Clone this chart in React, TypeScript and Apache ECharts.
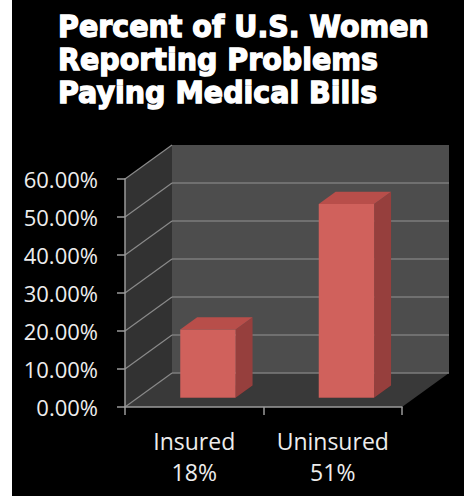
import React, { useEffect, useRef } from "react";
import * as echarts from "echarts";

const categories = ["Insured", "Uninsured"];
const categoryPercents = ["18%", "51%"];
const values = [0.18, 0.51];
const yMin = 0;
const yMax = 0.6;
const yInterval = 0.1;
const yTicks = [0, 0.1, 0.2, 0.3, 0.4, 0.5, 0.6];
const titleLines = ["Percent of U.S. Women", "Reporting Problems", "Paying Medical Bills"];

const DX = 47;
const DY = -34;
const T0 = 0.27;
const T1 = 0.63;

export default function App() {
  const ref = useRef<HTMLDivElement>(null);
  useEffect(() => {
    document.body.style.margin = "0";
    const chart = echarts.init(ref.current as HTMLDivElement, null, { renderer: "svg" });

    const wallsRender = (params: any, api: any) => {
      const cs = params.coordSys;
      const x0 = cs.x;
      const x1 = cs.x + cs.width;
      const yb = api.coord([0, yMin])[1];
      const yt = api.coord([0, yMax])[1];
      const children: any[] = [
        {
          type: "polygon",
          shape: { points: [[x0, yt], [x0 + DX, yt + DY], [x0 + DX, yb + DY], [x0, yb]] },
          style: { fill: "#323232" },
        },
        {
          type: "rect",
          shape: { x: x0 + DX, y: yt + DY, width: x1 - x0, height: yb - yt },
          style: { fill: "#4d4d4d" },
        },
        {
          type: "polygon",
          shape: { points: [[x0, yb], [x0 + DX, yb + DY], [x1 + DX, yb + DY], [x1, yb]] },
          style: { fill: "#393939" },
        },
      ];
      yTicks.forEach((v) => {
        const y = api.coord([0, v])[1];
        if (v < yMax) {
          children.push({
            type: "line",
            shape: { x1: x0 + DX, y1: y + DY, x2: x1 + DX, y2: y + DY },
            style: { stroke: "#7c7c7c", lineWidth: 1.5 },
          });
        }
        children.push({
          type: "line",
          shape: { x1: x0, y1: y, x2: x0 + DX, y2: y + DY },
          style: { stroke: "#8a8a8a", lineWidth: 1.2 },
        });
      });
      return { type: "group", children };
    };

    const barsRender = (params: any, api: any) => {
      const idx = api.value(0);
      const val = api.value(1);
      const top = api.coord([idx, val]);
      const base = api.coord([idx, 0]);
      const w = api.size([1, 0])[0] * 0.4;
      const fl = top[0] - w / 2 + DX * T0 + 1;
      const fr = fl + w;
      const ft = top[1] + DY * T0;
      const fb = base[1] + DY * T0;
      const bdx = DX * (T1 - T0);
      const bdy = DY * (T1 - T0);
      return {
        type: "group",
        children: [
          {
            type: "polygon",
            shape: { points: [[fl, fb], [fl + bdx, fb + bdy], [fr + bdx, fb + bdy], [fr, fb]] },
            style: { fill: "#2a2a2a" },
          },
          {
            type: "polygon",
            shape: { points: [[fr, ft], [fr + bdx, ft + bdy], [fr + bdx, fb + bdy], [fr, fb]] },
            style: { fill: "#963f3d" },
          },
          {
            type: "polygon",
            shape: { points: [[fl, ft], [fr, ft], [fr + bdx, ft + bdy], [fl + bdx, ft + bdy]] },
            style: { fill: "#b84e4a" },
          },
          {
            type: "rect",
            shape: { x: fl, y: ft, width: w, height: fb - ft },
            style: { fill: "#d0615c" },
          },
        ],
      };
    };

    const option: any = {
      animation: false,
      backgroundColor: "#000000",
      graphic: [
        {
          type: "rect",
          shape: { x: 0, y: 0, width: 12, height: 496 },
          style: { fill: "#ffffff" },
          silent: true,
        },
        {
          type: "text",
          x: 58,
          y: 10,
          scaleX: 0.92,
          style: {
            text: titleLines.join("\n"),
            fill: "#ffffff",
            font: "bold 31px 'DejaVu Sans'",
            lineHeight: 33,
            stroke: "#ffffff",
            lineWidth: 1.4,
          },
        },
      ],
      grid: { left: 125, top: 179, width: 277, height: 228 },
      xAxis: {
        type: "category",
        data: categories,
        z: 10,
        axisLine: { lineStyle: { color: "#9a9a9a", width: 1.5 } },
        axisTick: { show: true, length: 8, lineStyle: { color: "#9a9a9a", width: 1.5 } },
        axisLabel: {
          interval: 0,
          margin: 18,
          color: "#ededed",
          fontFamily: "Open Sans",
          fontSize: 23,
          lineHeight: 31,
          formatter: (v: string, i: number) => `${v}\n${categoryPercents[i]}`,
        },
      },
      yAxis: {
        type: "value",
        min: yMin,
        max: yMax,
        interval: yInterval,
        z: 10,
        splitLine: { show: false },
        axisLine: { show: true, lineStyle: { color: "#9a9a9a", width: 1.5 } },
        axisTick: { show: true, length: 8, lineStyle: { color: "#9a9a9a", width: 1.5 } },
        axisLabel: {
          margin: 27,
          color: "#ededed",
          fontFamily: "Open Sans",
          fontSize: 22,
          formatter: (v: number) => (v * 100).toFixed(2) + "%",
        },
      },
      series: [
        {
          type: "custom",
          z: 1,
          silent: true,
          data: [[0, 0]],
          renderItem: wallsRender,
        },
        {
          type: "custom",
          z: 3,
          data: values.map((v, i) => [i, v]),
          renderItem: barsRender,
        },
      ],
    };
    chart.setOption(option);
    return () => chart.dispose();
  }, []);
  return <div ref={ref} style={{ width: 464, height: 496 }} />;
}
